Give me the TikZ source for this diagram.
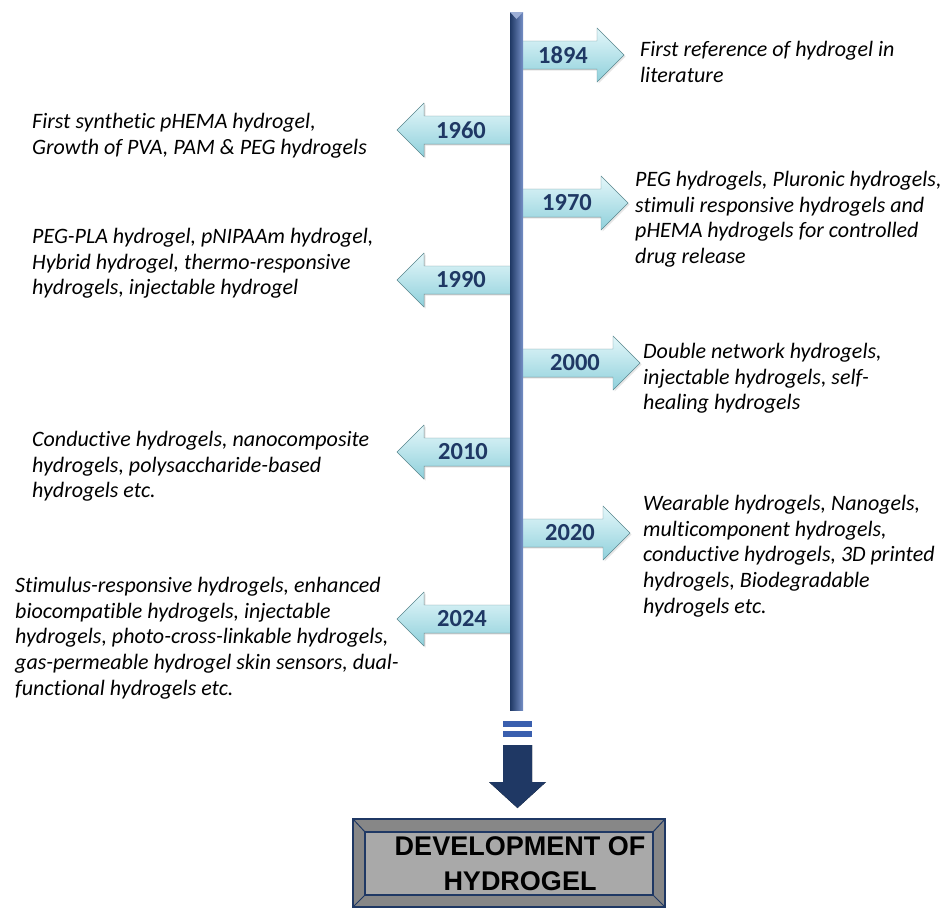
\documentclass[tikz,border=0pt]{standalone}
\usepackage{fontspec}
\setmainfont{Carlito}[Ligatures={TeX,CommonOff}]
\setsansfont{Liberation Sans}
\usetikzlibrary{shadows}
\definecolor{navy}{HTML}{1F3864}
\definecolor{barblue}{HTML}{3A5FAE}
\definecolor{icelight}{HTML}{E4F7FA}
\definecolor{icedark}{HTML}{8FD0DB}
\definecolor{boxgray}{HTML}{A9A9A9}

\begin{document}
\begin{tikzpicture}[x=1pt,y=-1pt]
    \tikzset{
    yr/.style={font=\fontsize{24.5}{24.5}\selectfont\bfseries, text=navy, inner sep=0},
    txt/.style={font=\fontsize{22}{25.7}\selectfont\itshape, align=left, anchor=north west, inner sep=0},
    ice/.style={top color=icelight, bottom color=icedark, draw=icedark!70!black, line width=0.4pt,
        drop shadow={opacity=0.2, shadow xshift=1.5pt, shadow yshift=-1.5pt}},
    title/.style={font=\fontsize{27}{35}\selectfont\sffamily\bfseries, align=center, inner sep=0},
    }
    \useasboundingbox (0,0) rectangle (947,908);

    % arrows to the right
    \foreach \c/\tip/\lbl/\lx in {55/624/1894/563, 203/628/1970/567, 363/640/2000/575, 533/630/2020/570}{
        \filldraw[ice] (518,{\c-14}) -- ({\tip-27},{\c-14}) -- ({\tip-27},{\c-27}) -- (\tip,\c)
            -- ({\tip-27},{\c+27}) -- ({\tip-27},{\c+14}) -- (518,{\c+14}) -- cycle;
        \node[yr] (y\lbl) at (\lx,\c) {\lbl};
    }
    % arrows to the left
    \foreach \c/\lbl/\lx in {130/1960/461, 280/1990/461, 452/2010/463, 619/2024/462}{
        \filldraw[ice] (512,{\c-14}) -- (424,{\c-14}) -- (424,{\c-27}) -- (397,\c)
            -- (424,{\c+27}) -- (424,{\c+14}) -- (512,{\c+14}) -- cycle;
        \node[yr] (y\lbl) at (\lx,\c) {\lbl};
    }

    % time line
    \fill[left color=navy, middle color=barblue, right color=barblue!70!white] (510,12) rectangle (523,710);
    \fill[barblue!50!white] (510,12) -- (523,12) -- (516.5,19) -- cycle;
    \fill[barblue] (503,721) rectangle (532,727);
    \fill[barblue] (503,731) rectangle (532,737);
    \fill[left color=navy, middle color=barblue, right color=navy]
        (503,745) -- (532,745) -- (532,782) -- (546,782) -- (517.5,808) -- (489,782) -- (503,782) -- cycle;

    % descriptions
    \node[txt] (t1894) at (640,41) {First reference of hydrogel in\\literature};
    \node[txt] (t1960) at (32,113) {First synthetic pHEMA hydrogel,\\Growth of PVA, PAM \& PEG hydrogels};
    \node[txt] (t1970) at (635,171) {PEG hydrogels, Pluronic hydrogels,\\stimuli responsive hydrogels and\\pHEMA hydrogels for controlled\\drug release};
    \node[txt] (t1990) at (32,228) {PEG-PLA hydrogel, pNIPAAm hydrogel,\\Hybrid hydrogel, thermo-responsive\\hydrogels, injectable hydrogel};
    \node[txt] (t2000) at (643,343) {Double network hydrogels,\\injectable hydrogels, self-\\healing hydrogels};
    \node[txt] (t2010) at (32,431) {Conductive hydrogels, nanocomposite\\hydrogels, polysaccharide-based\\hydrogels etc.};
    \node[txt] (t2020) at (643,495) {Wearable hydrogels, Nanogels,\\multicomponent hydrogels,\\conductive hydrogels, 3D printed\\hydrogels, Biodegradable\\hydrogels etc.};
    \node[txt] (t2024) at (15,577) {Stimulus-responsive hydrogels, enhanced\\biocompatible hydrogels, injectable\\hydrogels, photo-cross-linkable hydrogels,\\gas-permeable hydrogel skin sensors, dual-\\functional hydrogels etc.};

    % title box
    \fill[boxgray!80!black] (353,819) rectangle (665,907);
    \fill[boxgray] (365,832) rectangle (653,895);
    \draw[navy, line width=1.5pt] (353,819) rectangle (665,907);
    \draw[navy, line width=1.5pt] (365,832) rectangle (653,895);
    \draw[navy, line width=1pt] (353,819) -- (365,832) (665,819) -- (653,832)
        (353,907) -- (365,895) (665,907) -- (653,895);
    \node[title] (title) at (520,864) {DEVELOPMENT OF\\HYDROGEL};
\end{tikzpicture}
\end{document}
